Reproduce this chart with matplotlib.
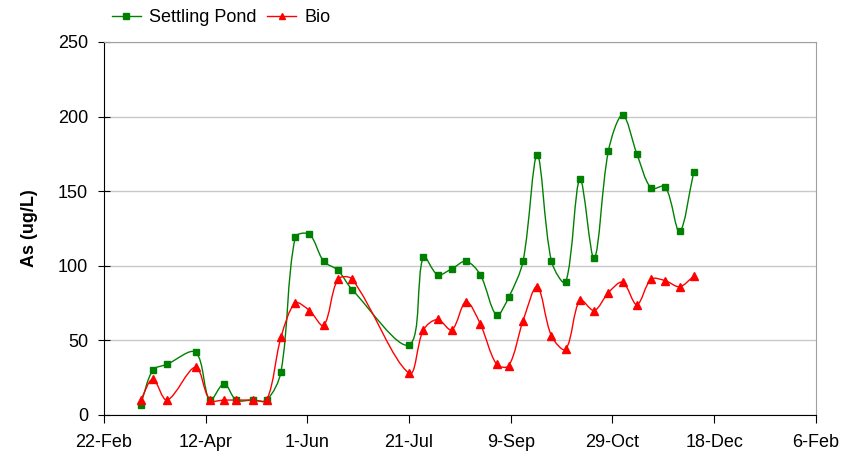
import numpy as np
import matplotlib
matplotlib.use("Agg")
from matplotlib import pyplot as plt
from matplotlib.path import Path
from matplotlib.patches import PathPatch
from matplotlib.lines import Line2D
import matplotlib.dates as mdates

plt.rcParams['font.family'] = ['Liberation Sans', 'DejaVu Sans']

dates = np.array([
    "2008-03-11", "2008-03-17", "2008-03-24", "2008-04-07", "2008-04-14",
    "2008-04-21", "2008-04-27", "2008-05-05", "2008-05-12", "2008-05-19",
    "2008-05-26", "2008-06-02", "2008-06-09", "2008-06-16", "2008-06-23",
    "2008-07-21", "2008-07-28", "2008-08-04", "2008-08-11", "2008-08-18",
    "2008-08-25", "2008-09-02", "2008-09-08", "2008-09-15", "2008-09-22",
    "2008-09-29", "2008-10-06", "2008-10-13", "2008-10-20", "2008-10-27",
    "2008-11-03", "2008-11-10", "2008-11-17", "2008-11-24", "2008-12-01",
    "2008-12-08"], dtype="datetime64[D]")

settling_pond = [7, 30, 34, 42, 10, 21, 10, 10, 10, 29,
                 119, 121, 103, 97, 84, 47, 106, 94, 98, 103,
                 94, 67, 79, 103, 174, 103, 89, 158, 105, 177,
                 201, 175, 152, 153, 123, 163]
bio = [10, 24, 10, 32, 10, 10, 10, 10, 10, 52,
       75, 70, 60, 91, 91, 28, 57, 64, 57, 76,
       61, 34, 33, 63, 86, 53, 44, 77, 70, 82,
       89, 74, 91, 90, 86, 93]

tick_dates = np.arange(np.datetime64("2008-02-22"), np.datetime64("2009-02-07"), 50)

green = "#008000"
red = "#ff0000"

# approx. pixels per day / per ug/L, used to weight the smoothing
PX_X, PX_Y = 2.034, 1.492


def smooth_path(x, y):
    # Excel-like smoothed line: Bezier segments, control arms scaled by
    # the screen length of neighbouring segments
    p = np.column_stack([x, y]).astype(float)
    s = np.array([PX_X, PX_Y])
    n = len(p)
    d = [np.hypot(*((p[i + 1] - p[i]) * s)) for i in range(n - 1)]
    tang = []
    for i in range(n):
        if i == 0 or i == n - 1:
            tang.append(None)
            continue
        tang.append((p[i + 1] - p[i - 1]) / (d[i - 1] + d[i]))
    verts = [p[0]]
    codes = [Path.MOVETO]
    for i in range(n - 1):
        if tang[i] is None:
            c1 = p[i] + (p[i + 1] - p[i]) / 3.0
        else:
            c1 = p[i] + tang[i] * d[i] / 3.0 * 1.0
        if tang[i + 1] is None:
            c2 = p[i + 1] - (p[i + 1] - p[i]) / 3.0
        else:
            c2 = p[i + 1] - tang[i + 1] * d[i] / 3.0 * 1.0
        verts += [c1, c2, p[i + 1]]
        codes += [Path.CURVE4] * 3
    return Path(verts, codes)


fig = plt.figure(figsize=(8.67, 4.59), dpi=100)
ax = fig.add_axes([0.12, 0.0959, 0.821, 0.8126])

xnum = mdates.date2num(dates.astype("datetime64[s]").astype(object))

for vals, col, mk, ms in [(settling_pond, green, "s", 4.8), (bio, red, "^", 5.8)]:
    ax.add_patch(PathPatch(smooth_path(xnum, vals), facecolor="none",
                           edgecolor=col, lw=1.0, zorder=3))
    ax.plot(xnum, vals, linestyle="none", marker=mk, color=col,
            markersize=ms, zorder=4)

tnum = mdates.date2num(tick_dates.astype("datetime64[s]").astype(object))
ax.set_xlim(tnum[0], tnum[-1])
ax.set_ylim(0, 250)
ax.set_xticks(tnum)
ax.set_xticklabels([d.strftime("%-d-%b") for d in tick_dates.astype(object)])
ax.set_yticks(range(0, 251, 50))

ax.yaxis.grid(True, color="#c8c8c8", lw=1.0)
ax.set_axisbelow(True)
for s in ["top", "right"]:
    ax.spines[s].set_color("#a0a0a0")
for s in ["left", "bottom"]:
    ax.spines[s].set_color("black")
ax.tick_params(axis="y", direction="inout", length=9, labelsize=13, pad=7)
ax.tick_params(axis="x", direction="out", length=6, labelsize=13, pad=8)

ax.set_ylabel("As (ug/L)", fontsize=13, fontweight="bold", labelpad=14)

handles = [Line2D([], [], color=green, marker="s", markersize=4, lw=1),
           Line2D([], [], color=red, marker="^", markersize=5, lw=1)]
fig.legend(handles, ["Settling Pond", "Bio"], loc="center left",
           bbox_to_anchor=(0.129, 0.962), ncol=2, frameon=False, fontsize=13,
           handlelength=1.6, handletextpad=0.45, columnspacing=0.6,
           borderaxespad=0, borderpad=0)

fig.savefig("out.png", dpi=100)
